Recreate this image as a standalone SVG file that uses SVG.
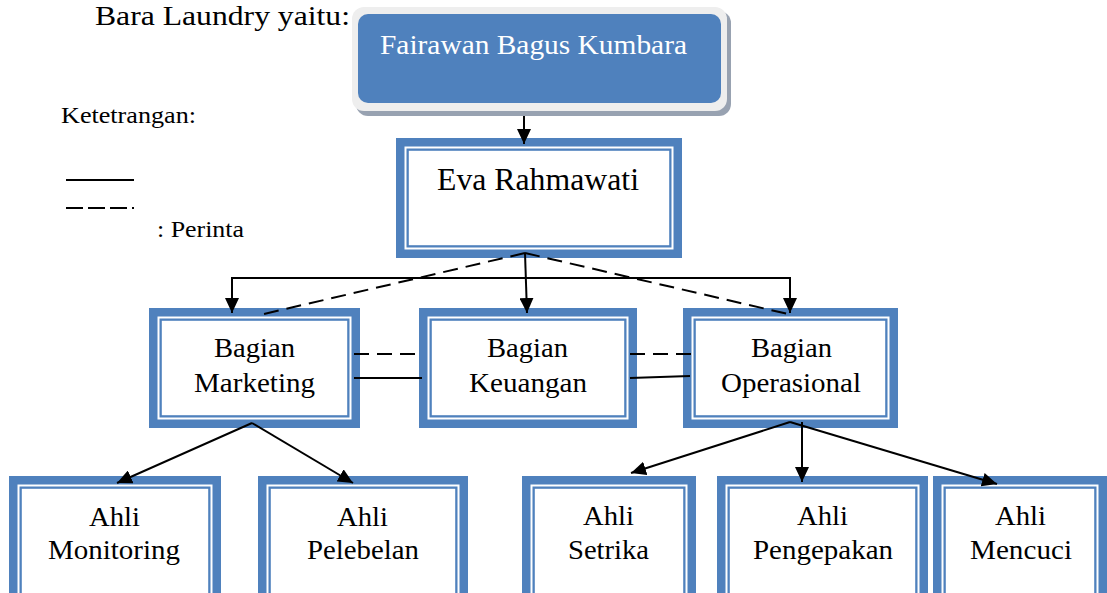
<svg xmlns="http://www.w3.org/2000/svg" width="1107" height="593" viewBox="0 0 1107 593">
<style>
text{font-family:"Liberation Serif","Times New Roman",serif;fill:#000;}
.t{font-size:28px;text-anchor:middle;}
.thick{fill:#fff;stroke:#4f81bd;stroke-width:8.5;}
.thin{fill:none;stroke:#4f81bd;stroke-width:2.3;}
.ln{fill:none;stroke:#000;stroke-width:2;}
.dash{fill:none;stroke:#000;stroke-width:2;stroke-dasharray:15 8;}
.arr{marker-end:url(#ah);}
</style>
<defs>
<marker id="ah" viewBox="0 0 15 14" refX="15" refY="7" markerWidth="15" markerHeight="14" markerUnits="userSpaceOnUse" orient="auto"><path d="M0,0 L15,7 L0,14 z" fill="#000"/></marker>
</defs>
<rect width="1107" height="593" fill="#fff"/>
<text x="95" y="25" font-size="27" textLength="255" lengthAdjust="spacingAndGlyphs">Bara Laundry yaitu:</text>
<g id="legend">
<text x="61" y="123" font-size="24" textLength="135" lengthAdjust="spacingAndGlyphs">Ketetrangan:</text>
<line x1="66" y1="180" x2="134" y2="180" class="ln"/>
<line x1="66" y1="208" x2="134" y2="208" class="ln" stroke-dasharray="17 5"/>
<text x="157" y="237" font-size="24" textLength="87" lengthAdjust="spacingAndGlyphs">: Perinta</text>
</g>
<g id="node-fairawan">
<rect x="356" y="11" width="375" height="105" rx="12" fill="#98a2b1"/>
<rect x="352" y="7" width="375" height="104" rx="12" fill="#eeeeee"/>
<rect x="358" y="14" width="363" height="89" rx="10" fill="#4f81bd"/>
<text x="380" y="54" font-size="28" style="fill:#fff" textLength="307" lengthAdjust="spacingAndGlyphs">Fairawan Bagus Kumbara</text>
</g>
<g id="node-eva">
<rect x="400.25" y="142.25" width="277.5" height="111.5" class="thick"/>
<rect x="407.65" y="149.65" width="262.7" height="96.7" class="thin"/>
<text x="538" y="190" font-size="31" text-anchor="middle" textLength="202" lengthAdjust="spacingAndGlyphs">Eva Rahmawati</text>
</g>
<g id="node-marketing">
<rect x="153.25" y="312.25" width="202.5" height="111.5" class="thick"/>
<rect x="160.65" y="319.65" width="187.7" height="96.7" class="thin"/>
<text x="254.5" y="357" class="t" textLength="81" lengthAdjust="spacingAndGlyphs">Bagian</text>
<text x="254.5" y="392" class="t" textLength="121" lengthAdjust="spacingAndGlyphs">Marketing</text>
</g>
<g id="node-keuangan">
<rect x="423.25" y="312.25" width="209.5" height="111.5" class="thick"/>
<rect x="430.65" y="319.65" width="194.7" height="96.7" class="thin"/>
<text x="527.5" y="357" class="t" textLength="81" lengthAdjust="spacingAndGlyphs">Bagian</text>
<text x="528" y="392" class="t" textLength="118" lengthAdjust="spacingAndGlyphs">Keuangan</text>
</g>
<g id="node-operasional">
<rect x="687.25" y="312.25" width="206.5" height="111.5" class="thick"/>
<rect x="694.65" y="319.65" width="191.7" height="96.7" class="thin"/>
<text x="791.5" y="357" class="t" textLength="81" lengthAdjust="spacingAndGlyphs">Bagian</text>
<text x="791" y="392" class="t" textLength="140" lengthAdjust="spacingAndGlyphs">Operasional</text>
</g>
<g id="node-monitoring">
<rect x="13.25" y="480.25" width="203.5" height="121.5" class="thick"/>
<rect x="20.65" y="487.65" width="188.7" height="106.7" class="thin"/>
<text x="114.5" y="526" class="t" textLength="51" lengthAdjust="spacingAndGlyphs">Ahli</text>
<text x="114" y="559" class="t" textLength="132" lengthAdjust="spacingAndGlyphs">Monitoring</text>
</g>
<g id="node-pelebelan">
<rect x="262.25" y="480.25" width="201.5" height="121.5" class="thick"/>
<rect x="269.65" y="487.65" width="186.7" height="106.7" class="thin"/>
<text x="362.5" y="526" class="t" textLength="51" lengthAdjust="spacingAndGlyphs">Ahli</text>
<text x="363" y="559" class="t" textLength="112" lengthAdjust="spacingAndGlyphs">Pelebelan</text>
</g>
<g id="node-setrika">
<rect x="526.25" y="480.25" width="165.5" height="121.5" class="thick"/>
<rect x="533.65" y="487.65" width="150.7" height="106.7" class="thin"/>
<text x="608.5" y="525" class="t" textLength="51" lengthAdjust="spacingAndGlyphs">Ahli</text>
<text x="608.5" y="559" class="t" textLength="81" lengthAdjust="spacingAndGlyphs">Setrika</text>
</g>
<g id="node-pengepakan">
<rect x="721.25" y="480.25" width="202.5" height="121.5" class="thick"/>
<rect x="728.65" y="487.65" width="187.7" height="106.7" class="thin"/>
<text x="822.5" y="525" class="t" textLength="51" lengthAdjust="spacingAndGlyphs">Ahli</text>
<text x="823" y="559" class="t" textLength="140" lengthAdjust="spacingAndGlyphs">Pengepakan</text>
</g>
<g id="node-mencuci">
<rect x="937.25" y="480.25" width="165.5" height="121.5" class="thick"/>
<rect x="944.65" y="487.65" width="150.7" height="106.7" class="thin"/>
<text x="1020.5" y="525" class="t" textLength="51" lengthAdjust="spacingAndGlyphs">Ahli</text>
<text x="1021" y="559" class="t" textLength="102" lengthAdjust="spacingAndGlyphs">Mencuci</text>
</g>
<g id="connectors">
<path d="M524,116 V144" class="ln arr"/>
<path d="M525,253 L527,313" class="ln arr"/>
<path d="M526,278 H232 V313" class="ln arr"/>
<path d="M526,278 H790 V313" class="ln arr"/>
<path d="M525,253 L264,314" class="dash"/>
<path d="M525,253 L788,314" class="dash"/>
<path d="M354,354 H422" class="dash"/>
<path d="M354,378 H422" class="ln"/>
<path d="M630,354 H697" class="dash"/>
<path d="M630,378 L690,376" class="ln"/>
<path d="M252,423 L117,483" class="ln arr"/>
<path d="M252,423 L353,483" class="ln arr"/>
<path d="M790,422 L631,473" class="ln arr"/>
<path d="M802,422 V482" class="ln arr"/>
<path d="M790,422 L997,484" class="ln arr"/>
</g>
</svg>
